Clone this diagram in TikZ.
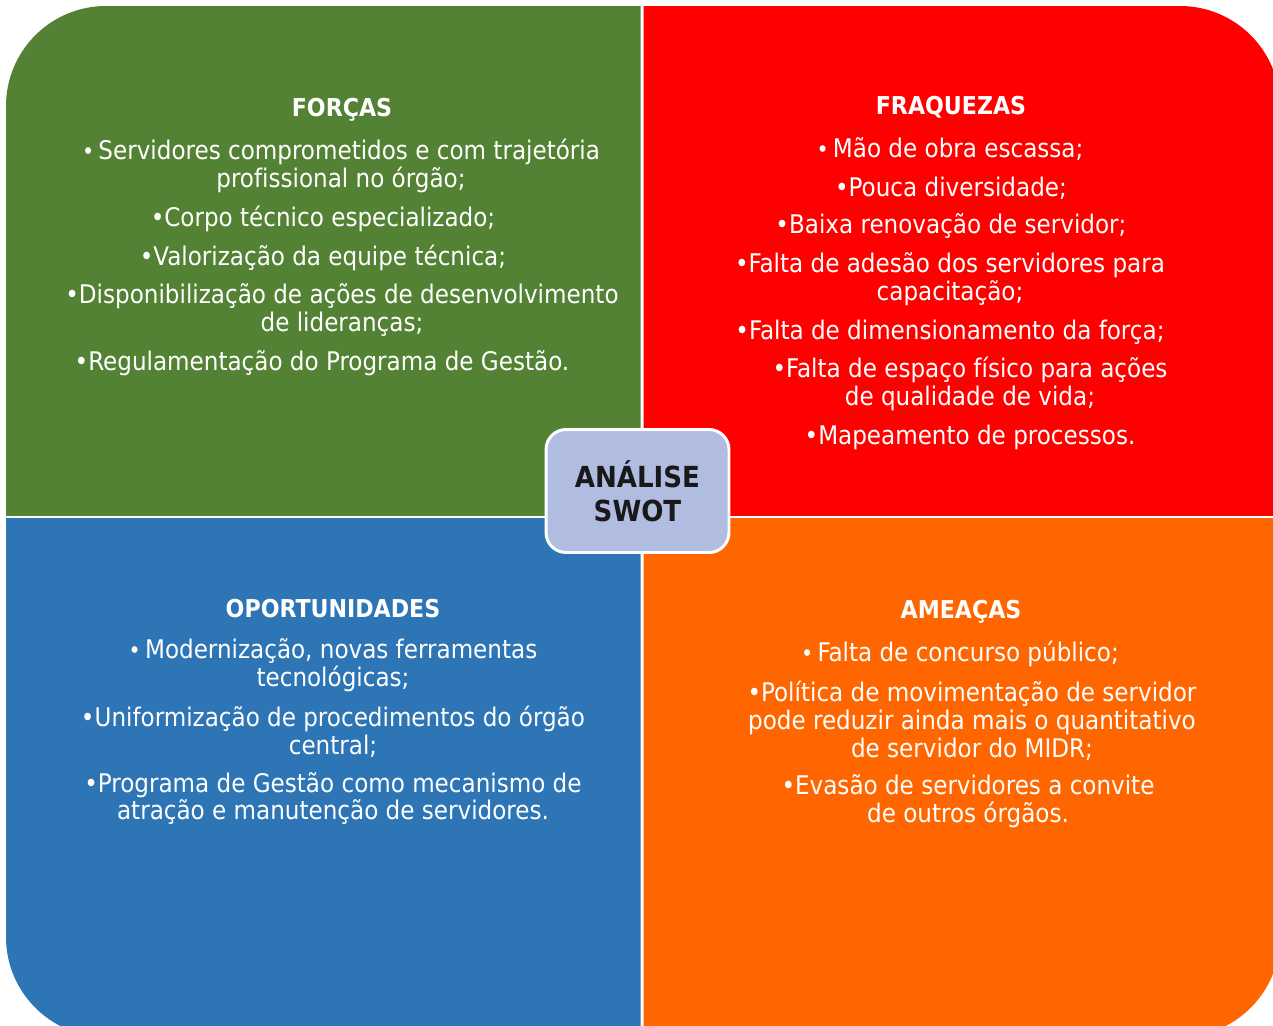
\documentclass[tikz,border=0pt]{standalone}
\usepackage{fontspec}
\setmainfont{DejaVu Sans Condensed}[Ligatures=NoCommon]
\usetikzlibrary{positioning}

\definecolor{forcagreen}{RGB}{84,130,53}
\definecolor{fraqred}{RGB}{255,0,0}
\definecolor{oporblue}{RGB}{46,117,182}
\definecolor{ameacorange}{RGB}{255,102,0}
\definecolor{swotfill}{RGB}{176,188,224}

\newcommand{\firstdot}{{\fontsize{13}{13}\selectfont•}\,}

\tikzset{
  heading/.style={font=\bfseries\fontsize{14}{16}\selectfont, text=white, inner sep=0pt},
  item/.style={font=\fontsize{14.6}{15.9}\selectfont, text=white, align=center, inner sep=0pt},
  swotbox/.style={draw=white, line width=1.7pt, fill=swotfill, rounded corners=0.4cm,
                  minimum width=3.66cm, minimum height=2.46cm, align=center,
                  font=\bfseries\fontsize{16.5}{19.5}\selectfont, text=black!90}
}

\begin{document}
\begin{tikzpicture}[x=0.02cm, y=-0.02cm]
  \useasboundingbox (0,0) rectangle (1273,1025);
  \clip (0,0) rectangle (1273,1025);

  % Quadrants (one rounded outer box, cut in four)
  \begin{scope}
    \clip (0,0) rectangle (640.5,515.5);
    \fill[forcagreen, rounded corners=2cm] (6,6) rectangle (1280,1037);
  \end{scope}
  \begin{scope}
    \clip (643.5,0) rectangle (1273,515.5);
    \fill[fraqred, rounded corners=2cm] (6,6) rectangle (1280,1037);
  \end{scope}
  \begin{scope}
    \clip (0,518.5) rectangle (640.5,1025);
    \fill[oporblue, rounded corners=2cm] (6,6) rectangle (1280,1037);
  \end{scope}
  \begin{scope}
    \clip (643.5,518.5) rectangle (1273,1025);
    \fill[ameacorange, rounded corners=2cm] (6,6) rectangle (1280,1037);
  \end{scope}

  % Forcas
  \node[heading] (forcas) at (342,110) {FORÇAS};
  \node[item] (f1) at (341,166) {\firstdot Servidores comprometidos e com trajetória\\profissional no órgão;};
  \node[item] (f2) at (323,219) {•Corpo técnico especializado;};
  \node[item] (f3) at (323,258) {•Valorização da equipe técnica;};
  \node[item] (f4) at (342,310) {•Disponibilização de ações de desenvolvimento\\de lideranças;};
  \node[item] (f5) at (322,363) {•Regulamentação do Programa de Gestão.};

  % Fraquezas
  \node[heading] (fraquezas) at (951,107) {FRAQUEZAS};
  \node[item] (w1) at (950,149) {\firstdot Mão de obra escassa;};
  \node[item] (w2) at (951,188) {•Pouca diversidade;};
  \node[item] (w3) at (951,226) {•Baixa renovação de servidor;};
  \node[item] (w4) at (950,279) {•Falta de adesão dos servidores para\\capacitação;};
  \node[item] (w5) at (950,332) {•Falta de dimensionamento da força;};
  \node[item] (w6) at (970,384) {•Falta de espaço físico para ações\\de qualidade de vida;};
  \node[item] (w7) at (970,437) {•Mapeamento de processos.};

  % Oportunidades
  \node[heading] (oportunidades) at (333,609) {OPORTUNIDADES};
  \node[item] (o1) at (333,665) {\firstdot Modernização, novas ferramentas\\tecnológicas;};
  \node[item] (o2) at (333,732) {•Uniformização de procedimentos do órgão\\central;};
  \node[item] (o3) at (333,798.5) {•Programa de Gestão como mecanismo de\\atração e manutenção de servidores.};

  % Ameacas
  \node[heading] (ameacas) at (961,612) {AMEAÇAS};
  \node[item] (t1) at (960,654) {\firstdot Falta de concurso público;};
  \node[item] (t2) at (972,721) {•Política de movimentação de servidor\\pode reduzir ainda mais o quantitativo\\de servidor do MIDR;};
  \node[item] (t3) at (968,801) {•Evasão de servidores a convite\\de outros órgãos.};

  % Centre
  \node[swotbox] (swot) at (637.5,491) {ANÁLISE\\SWOT};
\end{tikzpicture}
\end{document}
